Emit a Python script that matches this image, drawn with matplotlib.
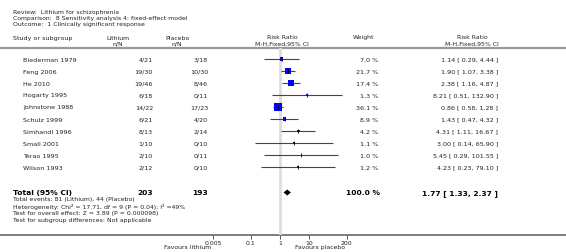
import numpy as np
import matplotlib
matplotlib.use('Agg')
import matplotlib.pyplot as plt

# data
studies = ['Biederman 1979', 'Feng 2006', 'He 2010', 'Hogarty 1995', 'Johnstone 1988',
           'Schulz 1999', 'Simhandl 1996', 'Small 2001', 'Terao 1995', 'Wilson 1993']
lithium = ['4/21', '19/30', '19/46', '6/18', '14/22', '6/21', '8/13', '1/10', '2/10', '2/12']
placebo = ['3/18', '10/30', '8/46', '0/11', '17/23', '4/20', '2/14', '0/10', '0/11', '0/10']
weights = [7.0, 21.7, 17.4, 1.3, 36.1, 8.9, 4.2, 1.1, 1.0, 1.2]
rr = [1.14, 1.90, 2.38, 8.21, 0.86, 1.43, 4.31, 3.00, 5.45, 4.23]
ci_lo = [0.29, 1.07, 1.16, 0.51, 0.58, 0.47, 1.11, 0.14, 0.29, 0.23]
ci_hi = [4.44, 3.38, 4.87, 132.90, 1.28, 4.32, 16.67, 65.90, 101.55, 79.10]

total_lith = 203
total_plac = 193
total_rr, total_lo, total_hi = 1.77, 1.33, 2.37

header_lines = ['Review:  Lithium for schizophrenia',
                'Comparison:  8 Sensitivity analysis 4: fixed-effect model',
                'Outcome:  1 Clinically significant response']
foot_lines = ['Total events: 81 (Lithium), 44 (Placebo)',
              'Heterogeneity: Chi\u00b2 = 17.71, df = 9 (P = 0.04); I\u00b2 =49%',
              'Test for overall effect: Z = 3.89 (P = 0.000098)',
              'Test for subgroup differences: Not applicable']
ticks = [0.005, 0.1, 1, 10, 200]
tick_labels = ['0.005', '0.1', '1', '10', '200']

W, H = 566, 253
FS = 4.6
FS_SMALL = 4.4
FS_BOLD = 5.4
TXT = '#222222'

fig = plt.figure(figsize=(W / 100, H / 100), dpi=100)
bg = fig.add_axes([0, 0, 1, 1])
bg.set_xlim(0, W)
bg.set_ylim(H, 0)
bg.axis('off')

# header
for i, t in enumerate(header_lines):
    bg.text(13, 12.5 + 6 * i, t, fontsize=FS_SMALL, va='center', color=TXT)
bg.text(13, 38.5, 'Study or subgroup', fontsize=FS, va='center', color=TXT)
bg.text(118, 38, 'Lithium', fontsize=FS_SMALL, ha='center', va='center', color=TXT)
bg.text(118, 44, 'n/N', fontsize=FS_SMALL, ha='center', va='center', color=TXT)
bg.text(177, 38, 'Placebo', fontsize=FS_SMALL, ha='center', va='center', color=TXT)
bg.text(177, 44, 'n/N', fontsize=FS_SMALL, ha='center', va='center', color=TXT)
bg.text(282, 37.5, 'Risk Ratio', fontsize=FS_SMALL, ha='center', va='center', color=TXT)
bg.text(282, 44, 'M-H,Fixed,95% CI', fontsize=FS_SMALL, ha='center', va='center', color=TXT)
bg.text(364, 37.5, 'Weight', fontsize=FS_SMALL, ha='center', va='center', color=TXT)
bg.text(472, 37.5, 'Risk Ratio', fontsize=FS_SMALL, ha='center', va='center', color=TXT)
bg.text(472, 44, 'M-H,Fixed,95% CI', fontsize=FS_SMALL, ha='center', va='center', color=TXT)
bg.axhline(48.5, color='#999999', lw=1.6)
bg.axhline(235.5, color='#666666', lw=1.2)

row_y = 60 + 12 * np.arange(len(studies))
for y, s, a, b, w, r, l, h in zip(row_y, studies, lithium, placebo, weights, rr, ci_lo, ci_hi):
    bg.text(23, y, s, fontsize=FS, va='center', color=TXT)
    bg.text(153, y, a, fontsize=FS, ha='right', va='center', color=TXT)
    bg.text(208, y, b, fontsize=FS, ha='right', va='center', color=TXT)
    bg.text(378, y, f'{w:.1f} %', fontsize=FS, ha='right', va='center', color=TXT)
    bg.text(498, y, f'{r:.2f} [ {l:.2f}, {h:.2f} ]', fontsize=FS, ha='right', va='center', color=TXT)

ty = 193.5
bg.text(13, ty, 'Total (95% CI)', fontsize=FS_BOLD, fontweight='bold', va='center', color='black')
bg.text(153, ty, str(total_lith), fontsize=FS_BOLD, fontweight='bold', ha='right', va='center')
bg.text(208, ty, str(total_plac), fontsize=FS_BOLD, fontweight='bold', ha='right', va='center')
bg.text(380, ty, '100.0 %', fontsize=FS_BOLD, fontweight='bold', ha='right', va='center')
bg.text(498, ty, f'{total_rr:.2f} [ {total_lo:.2f}, {total_hi:.2f} ]', fontsize=FS_BOLD,
        fontweight='bold', ha='right', va='center')
for i, t in enumerate(foot_lines):
    bg.text(13, 200 + 6.9 * i, t, fontsize=FS_SMALL, va='center', color=TXT)

bg.text(188, 247.5, 'Favours lithium', fontsize=FS_SMALL, ha='center', va='center', color=TXT)
bg.text(320, 247.5, 'Favours placebo', fontsize=FS_SMALL, ha='center', va='center', color=TXT)

# forest panel, 29 px per decade, 1 at x=280
ax = fig.add_axes([180 / W, (H - 235.5) / H, 200 / W, (235.5 - 48.5) / H])
ax.patch.set_alpha(0)
ax.set_xscale('log')
ax.set_xlim(10 ** (-100 / 29), 10 ** (100 / 29))
ax.set_ylim(235.5, 48.5)
for sp in ax.spines.values():
    sp.set_visible(False)
ax.set_xticks(ticks)
ax.set_xticklabels(tick_labels)
ax.minorticks_off()
ax.tick_params(axis='x', length=3, width=0.7, color='#555555', labelsize=FS_SMALL,
               pad=1, labelcolor=TXT)
ax.set_yticks([])

ax.axvline(1, color='#dddddd', lw=2, zorder=0)
ax.hlines(row_y, ci_lo, ci_hi, color='#444444', lw=0.8, zorder=2)
sizes = [(1.33 * np.sqrt(w) * 0.72) ** 2 for w in weights]
ax.scatter(rr, row_y, marker='s', s=sizes, color='#0000ff', linewidths=0, zorder=3)
ax.scatter(rr, row_y, marker='|', s=5, color='black', linewidths=0.6, zorder=4)

ax.fill([total_lo, total_rr, total_hi, total_rr], [ty, ty - 3, ty, ty + 3],
        color='black', lw=0, zorder=3)

fig.savefig('out.png', dpi=100)
